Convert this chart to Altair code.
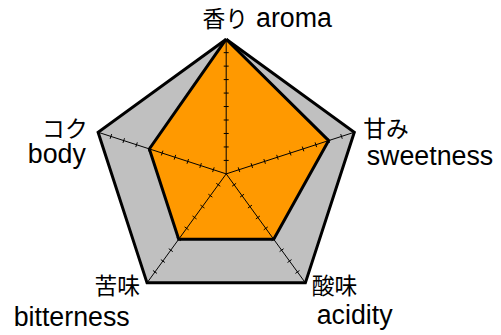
import math
import altair as alt
import pandas as pd

# ---- data ----
categories = ["aroma", "sweetness", "acidity", "bitterness", "body"]
jp_labels = ["香り", "甘み", "酸味", "苦味", "コク"]
en_labels = ["aroma", "sweetness", "acidity", "bitterness", "body"]
values = [10, 8, 6, 6, 6]
scale_max = 10
tick_values = [1, 2, 3, 4, 5, 6, 7, 8, 9]

# ---- styling / layout ----
angles = [90 - 72 * i for i in range(len(categories))]
W, H = 489, 327
CX, CY, K = 220.0, 165.9, 13.58  # center in plot px, px per unit
x_dom = [-CX / K, (W - CX) / K]
y_dom = [(CY - H) / K, CY / K]
TICK_HALF = 2.5 / K

# label placement (align, dx, dy) relative to the outer vertex of each axis
jp_place = [("left", -24, -12.2), ("left", 9, 4.8), ("left", 6.5, 11.2),
            ("right", -7, 11.2), ("right", -10.5, 4.6)]
en_place = [("center", 68.3, -12.5), ("center", 76.3, 33.5), ("center", 49.7, 41.9),
            ("center", -76, 43.9), ("center", -41.6, 30.8)]


def pt(r, a):
    return r * math.cos(math.radians(a)), r * math.sin(math.radians(a))


xs = alt.Scale(domain=x_dom, nice=False, zero=False)
ys = alt.Scale(domain=y_dom, nice=False, zero=False)


def poly_df(vals):
    rows = []
    for i in range(len(vals) + 1):
        j = i % len(vals)
        x, y = pt(vals[j], angles[j])
        rows.append({"x": x, "y": y, "o": i})
    return pd.DataFrame(rows)


outer = poly_df([scale_max] * len(categories))
inner = poly_df(values)

spokes = pd.DataFrame([
    {"x": 0.0, "y": 0.0, "x2": pt(scale_max, a)[0], "y2": pt(scale_max, a)[1]}
    for a in angles
])

tick_rows = []
for a in angles:
    nx, ny = -math.sin(math.radians(a)), math.cos(math.radians(a))
    for t in tick_values:
        px, py = pt(t, a)
        tick_rows.append({"x": px - TICK_HALF * nx, "y": py - TICK_HALF * ny,
                          "x2": px + TICK_HALF * nx, "y2": py + TICK_HALF * ny})
ticks = pd.DataFrame(tick_rows)


def poly_layer(df, fill):
    return alt.Chart(df).mark_line(
        fill=fill, stroke="black", strokeWidth=3, strokeJoin="miter"
    ).encode(
        x=alt.X("x:Q", scale=xs, axis=None),
        y=alt.Y("y:Q", scale=ys, axis=None),
        order="o:Q",
    )


def rule_layer(df):
    return alt.Chart(df).mark_rule(color="black", strokeWidth=1).encode(
        x=alt.X("x:Q", scale=xs, axis=None),
        y=alt.Y("y:Q", scale=ys, axis=None),
        x2="x2:Q",
        y2="y2:Q",
    )


layers = [
    poly_layer(outer, "#C0C0C0"),
    poly_layer(inner, "#FF9900"),
    rule_layer(spokes),
    rule_layer(ticks),
]

for i, a in enumerate(angles):
    vx, vy = pt(scale_max, a)
    for txt, (al, dx, dy), font, fs in [
        (jp_labels[i], jp_place[i], "Noto Sans CJK JP", 23),
        (en_labels[i], en_place[i], "Liberation Sans", 27),
    ]:
        df = pd.DataFrame([{"x": vx, "y": vy, "t": txt}])
        layers.append(
            alt.Chart(df).mark_text(
                align=al, baseline="alphabetic", dx=dx, dy=dy,
                font=font, fontSize=fs, color="black"
            ).encode(
                x=alt.X("x:Q", scale=xs, axis=None),
                y=alt.Y("y:Q", scale=ys, axis=None),
                text="t:N",
            )
        )

chart = alt.layer(*layers).properties(
    width=W, height=H, padding=0, autosize=alt.AutoSizeParams(type="none"),
    background="white",
).configure_view(stroke=None)

chart.save("out.html", embed_options={"renderer": "svg", "actions": False})
